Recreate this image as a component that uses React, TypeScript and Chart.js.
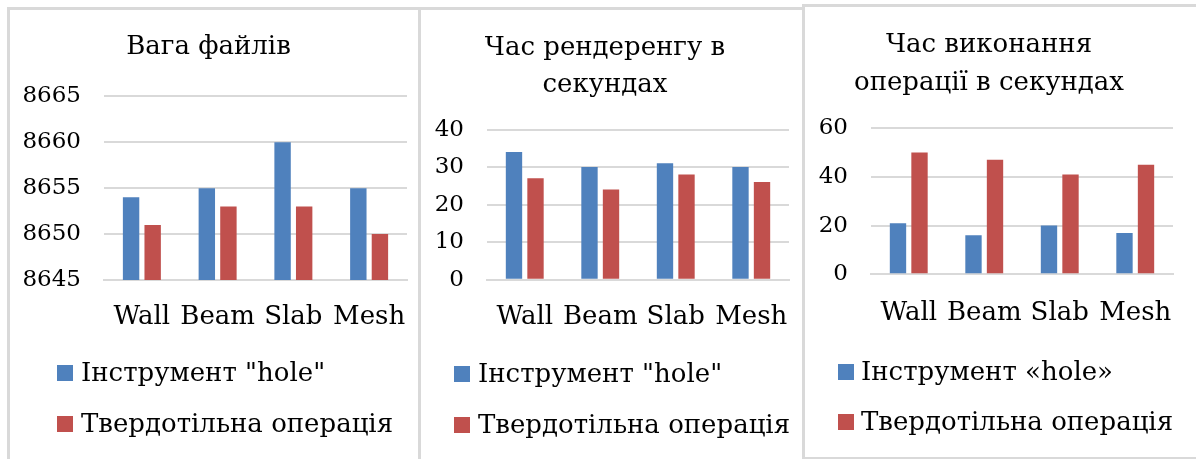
import React, { useEffect, useRef } from "react";
import { Chart, registerables } from "chart.js";

Chart.register(...registerables);

const categories = ["Wall", "Beam", "Slab", "Mesh"];

const fileSizeTitle = ["Вага файлів"];
const fileSizeHole = [8654, 8655, 8660, 8655];
const fileSizeSolid = [8651, 8653, 8653, 8650];
const fileSizeTicks = { min: 8645, max: 8665, step: 5 };

const renderTitle = ["Час рендеренгу в", "секундах"];
const renderHole = [34, 30, 31, 30];
const renderSolid = [27, 24, 28, 26];
const renderTicks = { min: 0, max: 40, step: 10 };

const opTitle = ["Час виконання", "операції в секундах"];
const opHole = [21, 16, 20, 17];
const opSolid = [50, 47, 41, 45];
const opTicks = { min: 0, max: 60, step: 20 };

const legendA = ['Інструмент "hole"', "Твердотільна операція"];
const legendB = ["Інструмент «hole»", "Твердотільна операція"];

const BLUE = "#4f81bd";
const RED = "#c0504d";
const GRID = "#d9d9d9";
const TEXT = "#000000";
const FONT = "'DejaVu Serif', 'Liberation Serif', serif";

const customLegend = {
  id: "customLegend",
  afterDraw(chart: any, _args: any, opts: any) {
    const ctx = chart.ctx;
    ctx.save();
    ctx.font = `${opts.size}px ${FONT}`;
    ctx.textBaseline = "middle";
    ctx.textAlign = "left";
    chart.data.datasets.forEach((ds: any, i: number) => {
      const cy = opts.y0 + i * opts.dy;
      ctx.fillStyle = ds.backgroundColor;
      ctx.fillRect(opts.x, cy - opts.box / 2, opts.box, opts.box);
      ctx.fillStyle = TEXT;
      ctx.fillText(ds.label, opts.x + opts.box + opts.gap, cy + 1);
    });
    ctx.restore();
  },
};

type Cfg = {
  title: string[];
  hole: number[];
  solid: number[];
  ticks: { min: number; max: number; step: number };
  legend: string[];
  yWidth: number;
  padRight: number;
  padBottom: number;
  titlePadTop: number;
  titlePadBottom: number;
  titleLine: number;
  xPad: number;
  legendX: number;
  legendY0: number;
  legendDy: number;
  legendGap: number;
};

const TITLE_SIZE = 26;

function BarPanel({ cfg, style, w, h }: { cfg: Cfg; style: React.CSSProperties; w: number; h: number }) {
  const ref = useRef<HTMLCanvasElement>(null);
  useEffect(() => {
    if (!ref.current) return;
    const chart = new Chart(ref.current, {
      type: "bar",
      data: {
        labels: categories,
        datasets: [
          { label: cfg.legend[0], data: cfg.hole, backgroundColor: BLUE, barPercentage: 0.76, categoryPercentage: 0.57 },
          { label: cfg.legend[1], data: cfg.solid, backgroundColor: RED, barPercentage: 0.76, categoryPercentage: 0.57 },
        ],
      },
      options: {
        animation: false,
        responsive: false,
        maintainAspectRatio: false,
        layout: { padding: { left: 0, right: cfg.padRight, top: 0, bottom: cfg.padBottom } },
        plugins: {
          legend: { display: false },
          tooltip: { enabled: false },
          title: {
            display: true,
            text: cfg.title,
            color: TEXT,
            font: { family: FONT, size: TITLE_SIZE, weight: "normal", lineHeight: cfg.titleLine },
            padding: { top: cfg.titlePadTop, bottom: cfg.titlePadBottom },
          },
          customLegend: { x: cfg.legendX, y0: cfg.legendY0, dy: cfg.legendDy, box: 16, gap: cfg.legendGap, size: 26 },
        } as any,
        scales: {
          x: {
            grid: { display: false, drawTicks: false },
            border: { display: true, color: GRID, width: 2 },
            ticks: { color: TEXT, font: { family: FONT, size: 26 }, padding: cfg.xPad, maxRotation: 0, autoSkip: false },
            afterFit: (s: any) => {
              s.height = 60;
              s.paddingLeft = 0;
              s.paddingRight = 0;
            },
          },
          y: {
            min: cfg.ticks.min,
            max: cfg.ticks.max,
            grid: { color: GRID, lineWidth: 2, drawTicks: false },
            border: { display: false },
            ticks: {
              stepSize: cfg.ticks.step,
              color: TEXT,
              font: { family: FONT, size: 23 },
              padding: 23,
              callback: (v: any) => String(v),
            },
            afterFit: (s: any) => { s.width = cfg.yWidth; },
          },
        },
      },
      plugins: [customLegend],
    });
    return () => chart.destroy();
  }, []);
  return (
    <div style={{ position: "absolute", border: `3px solid ${GRID}`, background: "#fff", ...style }}>
      <canvas ref={ref} width={w} height={h} style={{ display: "block", width: w, height: h }} />
    </div>
  );
}

const cfg1: Cfg = {
  title: fileSizeTitle, hole: fileSizeHole, solid: fileSizeSolid, ticks: fileSizeTicks, legend: legendA,
  yWidth: 94, padRight: 11, padBottom: 122, titlePadTop: 17.5, titlePadBottom: 28.5, titleLine: 1.55, xPad: 22,
  legendX: 47, legendY0: 363, legendDy: 51, legendGap: 8,
};
const cfg2: Cfg = {
  title: renderTitle, hole: renderHole, solid: renderSolid, ticks: renderTicks, legend: legendA,
  yWidth: 66, padRight: 13, padBottom: 122.3, titlePadTop: 19.5, titlePadBottom: 26.2, titleLine: 1.42, xPad: 22,
  legendX: 33, legendY0: 364, legendDy: 51, legendGap: 8,
};
const cfg3: Cfg = {
  title: opTitle, hole: opHole, solid: opSolid, ticks: opTicks, legend: legendB,
  yWidth: 66, padRight: 32, padBottom: 122.7, titlePadTop: 19, titlePadBottom: 26.3, titleLine: 1.46, xPad: 23,
  legendX: 33, legendY0: 365, legendDy: 50, legendGap: 7,
};

export default function App() {
  return (
    <div style={{ position: "fixed", left: 0, top: 0, width: 1196, height: 459, overflow: "hidden", background: "#fff" }}>
      <BarPanel cfg={cfg1} w={408} h={452} style={{ left: 7, top: 7 }} />
      <BarPanel cfg={cfg2} w={381} h={452} style={{ left: 418, top: 7 }} />
      <BarPanel cfg={cfg3} w={400} h={450} style={{ left: 802, top: 4 }} />
    </div>
  );
}
